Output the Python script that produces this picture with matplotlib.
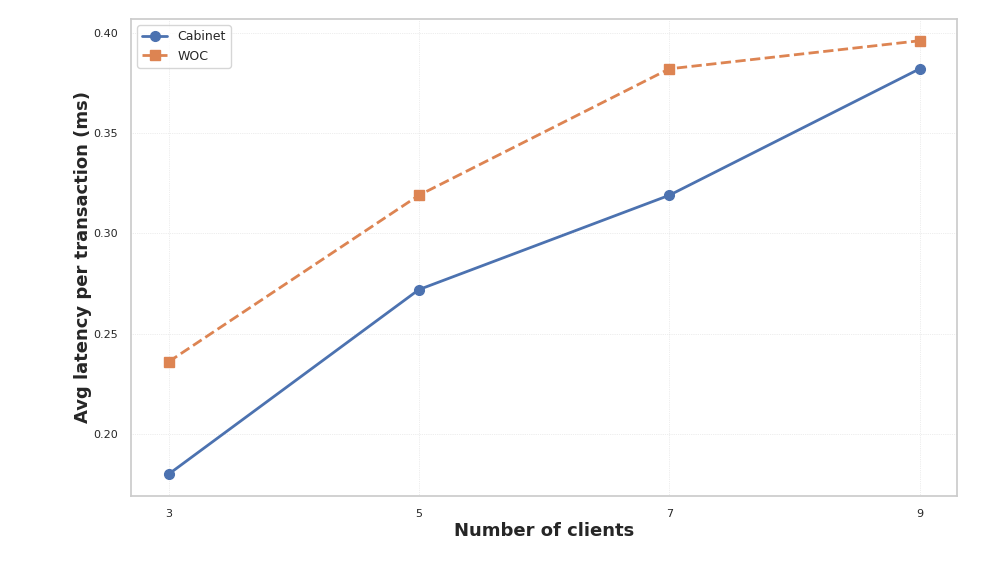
import matplotlib
matplotlib.use("Agg")
import matplotlib.pyplot as plt
import seaborn as sns

clients = [3, 5, 7, 9]
cabinet = [0.180, 0.272, 0.319, 0.382]
woc = [0.236, 0.319, 0.382, 0.396]

sns.set_theme(style="whitegrid")
plt.rcParams['font.family'] = ['DejaVu Sans']

fig, ax = plt.subplots(figsize=(9.96, 5.61), dpi=100)
fig.subplots_adjust(left=0.1315, right=0.961, top=0.966, bottom=0.116)

ax.plot(clients, cabinet, marker='o', linestyle='-', color='#4c72b0',
        linewidth=2, markersize=7, label='Cabinet')
ax.plot(clients, woc, marker='s', linestyle='--', color='#dd8452',
        linewidth=2, markersize=7, label='WOC')

ax.set_xticks(clients)
ax.set_yticks([0.20, 0.25, 0.30, 0.35, 0.40])
ax.set_yticklabels(['0.20', '0.25', '0.30', '0.35', '0.40'])
ax.tick_params(axis='both', labelsize=8)
ax.grid(True, linestyle=':', linewidth=0.5, color='#dcdcdc')

ax.set_xlabel('Number of clients', fontsize=13, fontweight='bold', labelpad=2)
ax.set_ylabel('Avg latency per transaction (ms)', fontsize=13, fontweight='bold', labelpad=1)

ax.legend(loc='upper left', fontsize=9)

fig.savefig('out.png', dpi=100)
